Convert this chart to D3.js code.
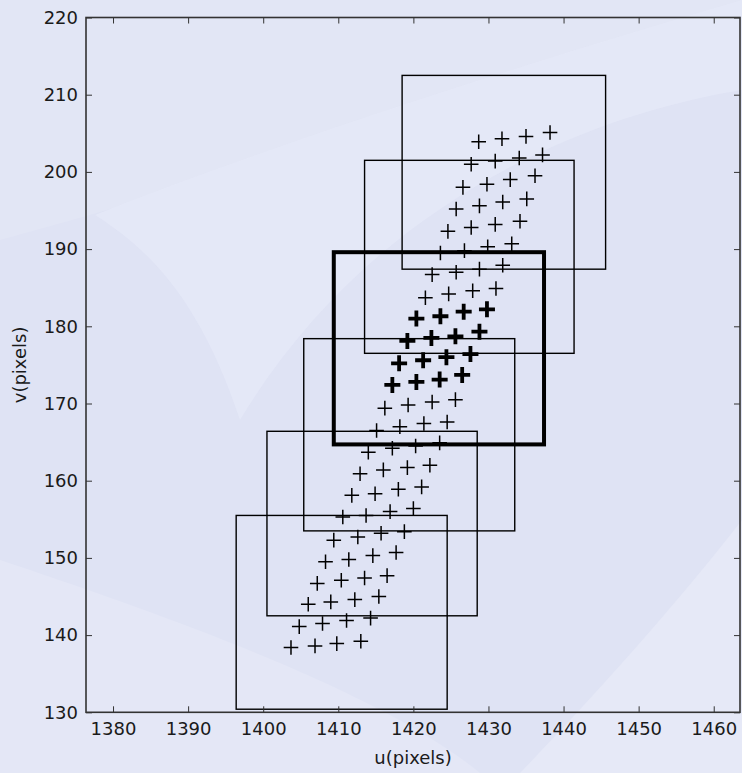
<!DOCTYPE html>
<html>
<head>
<meta charset="utf-8">
<script src="https://cdn.jsdelivr.net/npm/d3@7"></script>
<style>
  html, body { margin: 0; padding: 0; background: #dfe3f4; }
  svg { display: block; font-family: "DejaVu Sans", sans-serif; }
</style>
</head>
<body>
<div id="chart"></div>
<script>

// tick values
var uTicks = [1380, 1390, 1400, 1410, 1420, 1430, 1440, 1450, 1460];
var vTicks = [130, 140, 150, 160, 170, 180, 190, 200, 210, 220];

// grid points, row by row (4 per row), top row first
var pointU = [
    1428.7, 1431.8, 1435.0, 1438.2,
    1427.7, 1430.9, 1434.1, 1437.2,
    1426.6, 1429.8, 1432.9, 1436.2,
    1425.7, 1428.8, 1431.9, 1435.1,
    1424.6, 1427.7, 1430.9, 1434.2,
    1423.6, 1426.8, 1429.9, 1433.1,
    1422.5, 1425.7, 1428.8, 1431.9,
    1421.6, 1424.7, 1427.9, 1431.0,
    1420.4, 1423.6, 1426.7, 1429.8,
    1419.2, 1422.4, 1425.6, 1428.8,
    1418.1, 1421.3, 1424.4, 1427.6,
    1417.2, 1420.4, 1423.5, 1426.5,
    1416.2, 1419.3, 1422.5, 1425.6,
    1415.1, 1418.2, 1421.4, 1424.5,
    1414.0, 1417.2, 1420.3, 1423.5,
    1412.9, 1416.0, 1419.2, 1422.2,
    1411.8, 1414.9, 1418.0, 1421.1,
    1410.6, 1413.7, 1416.9, 1420.0,
    1409.4, 1412.6, 1415.7, 1418.8,
    1408.3, 1411.4, 1414.6, 1417.7,
    1407.2, 1410.4, 1413.5, 1416.5,
    1406.0, 1409.0, 1412.2, 1415.4,
    1404.8, 1407.9, 1411.1, 1414.3,
    1403.7, 1406.9, 1409.8, 1413.0
];
var pointV = [
    203.9, 204.3, 204.6, 205.1,
    201.0, 201.4, 201.8, 202.2,
    198.0, 198.4, 199.0, 199.5,
    195.2, 195.6, 196.1, 196.5,
    192.3, 192.8, 193.2, 193.6,
    189.5, 189.8, 190.3, 190.7,
    186.7, 187.0, 187.4, 187.9,
    183.7, 184.2, 184.6, 184.9,
    181.0, 181.3, 181.9, 182.2,
    178.1, 178.5, 178.7, 179.3,
    175.2, 175.6, 176.0, 176.4,
    172.4, 172.8, 173.1, 173.7,
    169.4, 169.8, 170.2, 170.5,
    166.5, 167.0, 167.4, 167.6,
    163.7, 164.2, 164.5, 164.9,
    160.9, 161.4, 161.7, 162.0,
    158.1, 158.3, 158.9, 159.2,
    155.3, 155.5, 156.0, 156.4,
    152.3, 152.7, 153.2, 153.4,
    149.5, 149.8, 150.3, 150.7,
    146.7, 147.1, 147.4, 147.7,
    144.0, 144.3, 144.6, 145.0,
    141.1, 141.5, 141.9, 142.2,
    138.4, 138.6, 138.9, 139.2
];
// rows drawn bold (0 = top row)
var boldRows = [8, 9, 10, 11];

// search windows: u0, u1, v0, v1
var boxU0 = [1418.5, 1413.5, 1409.4, 1405.4, 1400.5, 1396.4];
var boxU1 = [1445.6, 1441.4, 1437.4, 1433.5, 1428.5, 1424.5];
var boxV0 = [187.4, 176.5, 164.7, 153.5, 142.5, 130.4];
var boxV1 = [212.5, 201.5, 189.6, 178.4, 166.4, 155.5];
var boxBold = [false, false, true, false, false, false];

var svgWidth = 742;
var svgHeight = 773;
var margin = { left: 86, top: 17.5, right: 2, bottom: 60.7 };
var chartWidth = svgWidth - margin.left - margin.right;
var chartHeight = svgHeight - margin.top - margin.bottom;

var svg = d3.select("#chart").append("svg")
    .attr("width", svgWidth)
    .attr("height", svgHeight);

// wallpaper-ish background
svg.append("rect").attr("width", svgWidth).attr("height", svgHeight).attr("fill", "#dfe3f4");
var bg = svg.append("g");
bg.append("path")
    .attr("d", "M0,0 L742,0 L742,60 C560,120 300,150 90,215 L0,240 Z")
    .attr("fill", "#e2e6f5");
bg.append("path")
    .attr("d", "M95,215 C260,150 470,80 742,0 L742,90 C560,120 360,220 240,420 C200,300 150,250 95,215 Z")
    .attr("fill", "#e5e8f7").attr("opacity", 0.8);
bg.append("path")
    .attr("d", "M0,560 C150,610 380,690 480,773 L0,773 Z")
    .attr("fill", "#e4e7f6");
bg.append("path")
    .attr("d", "M520,773 C600,690 680,600 742,520 L742,773 Z")
    .attr("fill", "#e6e9f7");

var chartGroup = svg.append("g")
    .attr("transform", `translate(${margin.left}, ${margin.top})`);

var xScale = d3.scaleLinear().domain([1376.4, 1463.5]).range([0, chartWidth]);
var yScale = d3.scaleLinear().domain([130, 220]).range([chartHeight, 0]);

// boxes
var boxes = boxU0.map(function (u0, i) {
    return { u0: u0, u1: boxU1[i], v0: boxV0[i], v1: boxV1[i], bold: boxBold[i] };
});
boxes.sort(function (a, b) { return a.bold - b.bold; });

chartGroup.selectAll("rect.box").data(boxes).enter()
    .append("rect")
    .attr("class", "box")
    .attr("x", d => xScale(d.u0))
    .attr("y", d => yScale(d.v1))
    .attr("width", d => xScale(d.u1) - xScale(d.u0))
    .attr("height", d => yScale(d.v0) - yScale(d.v1))
    .attr("fill", "none")
    .attr("stroke", "#000")
    .attr("stroke-width", d => d.bold ? 4 : 1.4);

// plus markers
var points = pointU.map(function (u, i) {
    return { u: u, v: pointV[i], bold: boldRows.indexOf(Math.floor(i / 4)) >= 0 };
});
chartGroup.selectAll("path.pt").data(points).enter()
    .append("path")
    .attr("class", "pt")
    .attr("d", function (d) {
        var x = xScale(d.u), y = yScale(d.v);
        var a = d.bold ? 8 : 7.3;
        return `M${x - a},${y}H${x + a}M${x},${y - a}V${y + a}`;
    })
    .attr("stroke", "#000")
    .attr("stroke-width", d => d.bold ? 3.8 : 1.5)
    .attr("fill", "none");

// axes, matplotlib classic style: ticks inside on all sides
var tickLen = 6;
var xAxis = d3.axisBottom(xScale).tickValues(uTicks).tickSize(-tickLen).tickPadding(10).tickFormat(d3.format("d"));
var xAxisTop = d3.axisTop(xScale).tickValues(uTicks).tickSize(-tickLen).tickFormat("");
var yAxis = d3.axisLeft(yScale).tickValues(vTicks).tickSize(-tickLen).tickPadding(8).tickFormat(d3.format("d"));
var yAxisRight = d3.axisRight(yScale).tickValues(vTicks).tickSize(-tickLen).tickFormat("");

var gx = chartGroup.append("g").attr("transform", `translate(0, ${chartHeight})`).call(xAxis);
var gxt = chartGroup.append("g").call(xAxisTop);
var gy = chartGroup.append("g").call(yAxis);
var gyr = chartGroup.append("g").attr("transform", `translate(${chartWidth}, 0)`).call(yAxisRight);

[gx, gxt, gy, gyr].forEach(function (g) {
    g.select(".domain").remove();
    g.selectAll(".tick line").attr("stroke", "#333").attr("stroke-width", 1);
    g.selectAll(".tick text")
        .attr("fill", "#1a1a1a")
        .attr("font-size", "18px")
        .attr("font-family", "DejaVu Sans, sans-serif");
});

// frame
chartGroup.append("rect")
    .attr("width", chartWidth)
    .attr("height", chartHeight)
    .attr("fill", "none")
    .attr("stroke", "#333")
    .attr("stroke-width", 1.6);

// axis titles
chartGroup.append("text")
    .attr("x", chartWidth / 2)
    .attr("y", chartHeight + 52)
    .attr("text-anchor", "middle")
    .attr("font-size", "18px")
    .attr("fill", "#1a1a1a")
    .text("u(pixels)");

chartGroup.append("text")
    .attr("transform", "rotate(-90)")
    .attr("x", -chartHeight / 2)
    .attr("y", -60)
    .attr("text-anchor", "middle")
    .attr("font-size", "18px")
    .attr("fill", "#1a1a1a")
    .text("v(pixels)");

</script>
</body>
</html>
